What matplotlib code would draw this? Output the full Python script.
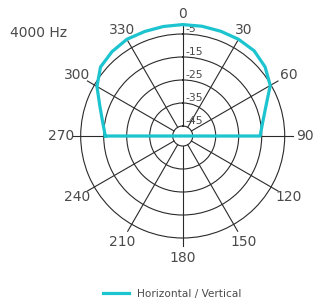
import numpy as np
import matplotlib
matplotlib.use("Agg")
import matplotlib.pyplot as plt
from matplotlib.transforms import offset_copy

# ---- data ----
title_text = "4000 Hz"
series_label = "Horizontal / Vertical"
angles_deg = [270, 280, 290, 300, 310, 320, 330, 340, 350, 0, 10, 20, 30, 40, 50, 60, 70, 80, 90]
level_db = [-15.7, -14.0, -11.0, -6.3, -2.7, -1.5, -0.8, -1.0, -1.0, -0.9, -0.9, -0.9, -0.8, -1.0, -2.6, -5.4, -10.8, -14.0, -15.7]
theta_ticks = [0, 30, 60, 90, 120, 150, 180, 210, 240, 270, 300, 330]
theta_labels = ["0", "30", "60", "90", "120", "150", "180", "210", "240", "270", "300", "330"]
r_ticks = [-45, -35, -25, -15, -5]
r_labels = ["-45", "-35", "-25", "-15", "-5"]

# ---- style ----
W, H, DPI = 316, 300, 100
cx, cy = 182.7, 136.0          # center in px (top-left origin)
px_per_db = 2.3
r_min = -49.35
R_px = 121.0                   # axes radius in px
r_max = r_min + R_px / px_per_db
spoke_end = r_min + 110 / px_per_db
label_r = r_min + 122 / px_per_db
cyan = "#1CC4CF"
grid_c = "#2a2a2a"
text_c = "#4a4a4a"

fig = plt.figure(figsize=(W / DPI, H / DPI), dpi=DPI)
ax = fig.add_axes([(cx - R_px) / W, (H - cy - R_px) / H, 2 * R_px / W, 2 * R_px / H],
                  projection="polar")
ax.set_theta_zero_location("N")
ax.set_theta_direction(-1)
ax.set_rlim(r_min, r_max)
ax.spines["polar"].set_visible(False)
ax.set_xticks([])
ax.set_rgrids(r_ticks, labels=[""] * len(r_ticks))
ax.yaxis.grid(True, color=grid_c, lw=0.8)
ax.xaxis.grid(False)
ax.patch.set_alpha(0)

# spokes
for a in theta_ticks:
    t = np.deg2rad(a)
    ax.plot([t, t], [r_ticks[0], spoke_end], color=grid_c, lw=0.8, zorder=2)

# angle labels
for a, lab in zip(theta_ticks, theta_labels):
    ax.text(np.deg2rad(a), label_r, lab, ha="center", va="center",
            fontsize=10, color=text_c, clip_on=False)

# radial labels
tr = offset_copy(ax.transData, fig=fig, x=2.5, y=4.5, units="dots")
for r, lab in zip(r_ticks, r_labels):
    ax.text(0, r, lab, transform=tr, ha="left", va="center", fontsize=7.8, color=text_c)

# curve (closed straight across the back)
th = np.deg2rad(angles_deg + [angles_deg[0]])
rr = level_db + [level_db[0]]
line, = ax.plot(th, rr, color=cyan, lw=2.3, zorder=5, clip_on=False,
                solid_joinstyle="round")

fig.text(10 / W, 1 - 33 / H, title_text, ha="left", va="center", fontsize=10, color=text_c)

fig.legend(handles=[line], labels=[series_label], loc="center",
           bbox_to_anchor=(172.5 / W, 1 - 294 / H), frameon=False,
           fontsize=7.6, handlelength=2.4, handletextpad=0.8, labelcolor=text_c)

fig.savefig("out.png", dpi=DPI)
